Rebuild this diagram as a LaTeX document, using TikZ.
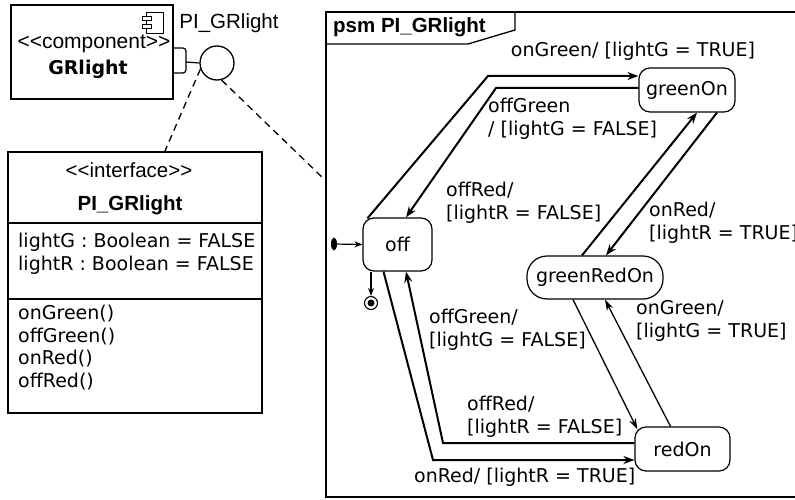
\documentclass[tikz,border=0pt]{standalone}
\usepackage{fontspec}
\setmainfont{DejaVu Sans}
\newfontfamily\lib{Liberation Sans}
\newfontfamily\dvb{DejaVu Sans Bold}
\usetikzlibrary{arrows.meta,calc,shapes.geometric}
\begin{document}
\begin{tikzpicture}[x=1pt,y=-1pt,
  lbl/.style={font=\fontsize{19}{22.5}\selectfont, inner sep=0pt, align=left, anchor=west},
  libtxt/.style={font=\lib\fontsize{20.5}{23}\selectfont, inner sep=0pt},
  stbox/.style={draw, line width=1.2pt, rounded corners=11pt, font=\fontsize{19}{22}\selectfont, inner sep=0pt},
  trthick/.style={line width=2pt, -{Stealth[length=11pt,width=8pt]}},
  trthin/.style={line width=1.3pt, -{Stealth[length=11pt,width=7pt]}},
  dash line/.style={line width=1.3pt, dash pattern=on 7pt off 5pt},
]
\useasboundingbox (0,0) rectangle (795,500);

% ---------- component ----------
\node[draw, line width=1.2pt, minimum width=162pt, minimum height=94pt, inner sep=0pt] (comp) at (92,52) {};
\node[libtxt, font=\lib\fontsize{21}{23}\selectfont] (compst) at (94,44) {<<component>>};
\node[font=\dvb\fontsize{19}{22}\selectfont, inner sep=0pt] (compnm) at (88,69) {GRlight};
\draw[line width=1pt] (146,13) rectangle (163,34);
\draw[line width=1pt, fill=white] (142,17) rectangle (151,21);
\draw[line width=1pt, fill=white] (142,25) rectangle (151,29);
\draw[line width=1.2pt, rounded corners=3pt] (173,48) -- (186,48) -- (186,73) -- (173,73);
\node[draw, circle, line width=1.3pt, minimum size=34pt, inner sep=0pt] (circ) at (217,63) {};
\draw[line width=1.2pt] (186,62) -- (circ.west);
\node[libtxt] (pilbl) at (229,23) {PI\_GRlight};

% ---------- interface ----------
\node[draw, line width=2pt, minimum width=254pt, minimum height=261pt, inner sep=0pt] (iface) at (135,282.5) {};
\draw[line width=2pt] (iface.west |- 0,223) -- (iface.east |- 0,223);
\draw[line width=2pt] (iface.west |- 0,299) -- (iface.east |- 0,299);
\node[libtxt, font=\lib\fontsize{20.5}{23}\selectfont] (ifst) at (129,170) {<<interface>>};
\node[libtxt, font=\lib\bfseries\fontsize{20.5}{23}\selectfont] (ifnm) at (130,205) {PI\_GRlight};
\node[lbl, anchor=north west] (attrs) at (18,233) {lightG : Boolean = FALSE\\lightR : Boolean = FALSE};
\node[lbl, anchor=north west] (ops) at (18,305) {onGreen()\\offGreen()\\onRed()\\offRed()};

% ---------- frame ----------
\node[draw, line width=2pt, minimum width=484pt, minimum height=485pt, inner sep=0pt] (frame) at (568,254.5) {};
\draw[line width=1.3pt] (frame.west |- 0,44) -- (468,44) -- (515,30) -- (515,12);
\node[libtxt, font=\lib\bfseries\fontsize{20.5}{23}\selectfont, anchor=west] (psm) at (333,27) {psm PI\_GRlight};

% dashed dependencies
\draw[dash line] (circ.200) -- ($(iface.north)+(30,0)$);
\draw[dash line] (circ.-75) -- (frame.west |- 0,180);

% ---------- states ----------
\node[stbox, minimum width=69pt, minimum height=53pt] (off) at (397.5,244.5) {off};
\node[stbox, minimum width=96pt, minimum height=44pt] (greenOn) at (687,90) {greenOn};
\node[stbox, rounded corners=20pt, minimum width=136pt, minimum height=43pt] (greenRedOn) at (595,277.5) {greenRedOn};
\node[stbox, minimum width=95pt, minimum height=44pt] (redOn) at (682.5,449) {redOn};

\node[ellipse, fill=black, minimum width=6pt, minimum height=13pt, inner sep=0pt] (init) at (334,244) {};
\draw[line width=1.2pt, -{Stealth[length=8pt,width=6pt]}] (init) -- (off.west);
\node[draw, circle, line width=1.1pt, minimum size=13pt, inner sep=0pt] (final) at (371,303) {};
\node[circle, fill=black, minimum size=7pt, inner sep=0pt] (finaldot) at (final) {};
\draw[line width=1.2pt, -{Stealth[length=8pt,width=6pt]}] (off.south -| final) -- (final.north);

% ---------- transitions ----------
\coordinate (b1) at (488,76);
\draw[trthick] ($(off.north west)+(5,1)$) -- (b1) -- (b1 -| greenOn.west);
\coordinate (b2) at (496,88);
\draw[trthick] (b2 -| greenOn.west) -- (b2) -- ($(off.north)+(8.5,0)$);
\draw[trthick] ($(greenRedOn.north)+(-13,0)$) -- ($(greenOn.south)+(10,0)$);
\draw[trthick] ($(greenOn.south)+(30,0)$) -- ($(greenRedOn.north)+(11,0)$);
\draw[trthin] ($(greenRedOn.south)+(-22,0)$) -- ($(redOn.north west)+(3,3)$);
\draw[trthin] ($(redOn.north)+(-12,0)$) -- ($(greenRedOn.south)+(10,0)$);
\coordinate (b7) at (433,460);
\draw[trthick] ($(off.south)+(-14,0)$) -- (b7) -- (b7 -| redOn.west);
\coordinate (b8) at (443,443);
\draw[trthick] (b8 -| redOn.west) -- (b8) -- ($(off.south)+(8.5,0)$);

% ---------- labels ----------
\node[lbl, anchor=center] (l1) at (633,51) {onGreen/ [lightG = TRUE]};
\node[lbl] (l2) at (488,119) {offGreen\\/ [lightG = FALSE]};
\node[lbl] (l3) at (446,203) {offRed/\\{[}lightR = FALSE]};
\node[lbl] (l4) at (649,223) {onRed/\\{[}lightR = TRUE]};
\node[lbl] (l5) at (429,330) {offGreen/\\{[}lightG = FALSE]};
\node[lbl] (l6) at (636,321) {onGreen/\\{[}lightG = TRUE]};
\node[lbl] (l7) at (467,417) {offRed/\\{[}lightR = FALSE]};
\node[lbl] (l8) at (414,477) {onRed/ [lightR = TRUE]};
\end{tikzpicture}
\end{document}
